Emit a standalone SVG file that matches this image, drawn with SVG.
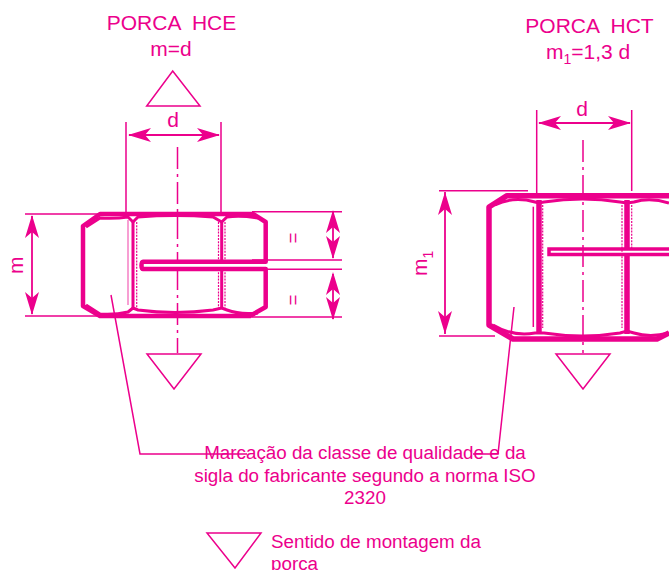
<svg xmlns="http://www.w3.org/2000/svg" width="669" height="570" viewBox="0 0 669 570">
<style>
text{font-family:"Liberation Sans",Arial,sans-serif;font-size:18.8px;fill:#ec008c;white-space:pre}
.b{font-size:21px}
.m{text-anchor:middle}
.t{fill:none;stroke:#ec008c;stroke-width:1.5}
.u{fill:none;stroke:#ec008c;stroke-width:1.8}
.o{fill:none;stroke:#ec008c;stroke-width:4.5;stroke-linejoin:round}
.p{fill:none;stroke:#ec008c;stroke-width:5.5;stroke-linejoin:round}
.k{fill:none;stroke:#ec008c;stroke-width:3}
.d{fill:none;stroke:#ec008c;stroke-width:1.2;stroke-dasharray:2 1.2}
.c{fill:none;stroke:#ec008c;stroke-width:1.5;stroke-dasharray:22 5 3 5}
.a{fill:#ec008c;stroke:none}
</style>
<defs>
<path id="ah" class="a" d="M0,0L23,-7L17,0L23,7Z"/>
</defs>
<rect width="669" height="570" fill="#fff"/>
<g id="title-hce"><text class="m b" x="171.500" y="30">PORCA  HCE</text><text class="m b" x="171" y="56">m=d</text></g>
<g id="title-hct"><text class="m b" x="589.500" y="33">PORCA  HCT</text><text class="b" x="546" y="59">m<tspan dy="5" font-size="14">1</tspan><tspan dy="-5">=1,3 d</tspan></text></g>
<g id="nut-hce">
<path class="o" d="M143,261.700H265.700V222L253,214H100L83,226V306L100,316H250L265.700,307V269H143Q141.500,269 141.500,265.500Q141.500,261.700 143,261.700Z"/>
<path class="k" d="M86,227L100,218Q115,219 128,217L133,222L138,217Q175,214 213,217L221.700,222L227,217Q240,215 258,218"/>
<path class="k" d="M86,305L100,314Q115,315 128,312L133,308L138,310Q175,315 213,310L221.700,308L227,310Q240,315 258,313"/>
<path class="k" d="M133,222V308M221.700,222V261M221.700,269V308"/>
<path class="d" d="M136.700,222V308M218.500,222V261M218.500,269V308M225,222V261M225,269V308"/>
<path class="t" d="M128,220V305" stroke-opacity=".5"/>
</g>
<g id="nut-hct">
<path class="p" d="M669,195.700H507L489,207V325L513,339H657L669,333"/>
<path d="M669,249H549V254.500H669" fill="none" stroke="#ec008c" stroke-width="3.500"/>
<path class="k" d="M495,205Q513,196 535,202L539,203L544,202Q583,196 620,202L627,203L634,202Q650,197 669,203"/>
<path class="k" d="M493,325Q513,337 535,333L539,333L544,333Q583,339 620,333L627,331L634,333Q650,338 669,333"/>
<path class="p" d="M539,200V334" stroke-width="4.500"/>
<path class="p" d="M627,200V248M627,256V334" stroke-width="4.500"/>
<path class="d" d="M542.700,205V328M622,205V328M631.700,205V248"/>
<path class="t" d="M533.300,206.700V327"/>
</g>
<g id="connectors">
<path class="t" d="M126,122V213M221,122V213"/>
<path class="u" d="M129,135H219"/><use href="#ah" x="128" y="135"/><use href="#ah" transform="translate(220,135) scale(-1,1)"/>
<path class="c" d="M177.500,147V262"/><path class="c" d="M177.500,268V353"/>
<path class="t" d="M25,214H100M25,316H100M252,211.700H342M252,260H342M252,269.300H342M252,317H342"/>
<path class="u" d="M32,216V314"/><use href="#ah" transform="translate(32,215) rotate(90)"/><use href="#ah" transform="translate(32,315) rotate(-90)"/>
<path class="u" d="M333,212V258M333,274V319"/>
<use href="#ah" transform="translate(333,210) rotate(90)"/>
<use href="#ah" transform="translate(333,259) rotate(-90)"/>
<use href="#ah" transform="translate(333,272) rotate(90)"/>
<use href="#ah" transform="translate(333,320) rotate(-90)"/>
<path class="t" d="M536.700,110V193M631.700,110V191"/>
<path class="u" d="M539,123H630"/><use href="#ah" x="538" y="123"/><use href="#ah" transform="translate(631,123) scale(-1,1)"/>
<path class="c" d="M583,140V353"/>
<path class="t" d="M439,190.700H528M439,336H495"/>
<path class="u" d="M445,192V334"/><use href="#ah" transform="translate(445,192) rotate(90)"/><use href="#ah" transform="translate(445,334) rotate(-90)"/>
<path class="t" d="M111,295L140,454H247M514,307L498,454H473"/>
</g>
<g id="symbols">
<path class="t" d="M172.700,71L200,106H146.700Z"/>
<path class="t" d="M147,354H201L174,389Z"/>
<path class="t" d="M556,354H610L583,389Z"/>
<path class="t" d="M207,533H261L235,568Z"/>
</g>
<g id="labels">
<text class="m b" x="173" y="127">d</text><text class="m b" x="582" y="116">d</text>
<text class="m" transform="translate(299,238) rotate(-90)">=</text>
<text class="m" transform="translate(299,300) rotate(-90)">=</text>
<text class="b" transform="translate(23,274) rotate(-90)">m</text>
<text class="b" transform="translate(427,276) rotate(-90)">m<tspan dy="6" font-size="14">1</tspan></text>
<text class="m" x="365" y="459">Marcação da classe de qualidade e da</text>
<text class="m" x="365" y="481.500">sigla do fabricante segundo a norma ISO</text>
<text class="m" x="365" y="504">2320</text>
<text x="271" y="548">Sentido de montagem da</text>
<text x="271" y="570">porca</text>
</g>
</svg>
